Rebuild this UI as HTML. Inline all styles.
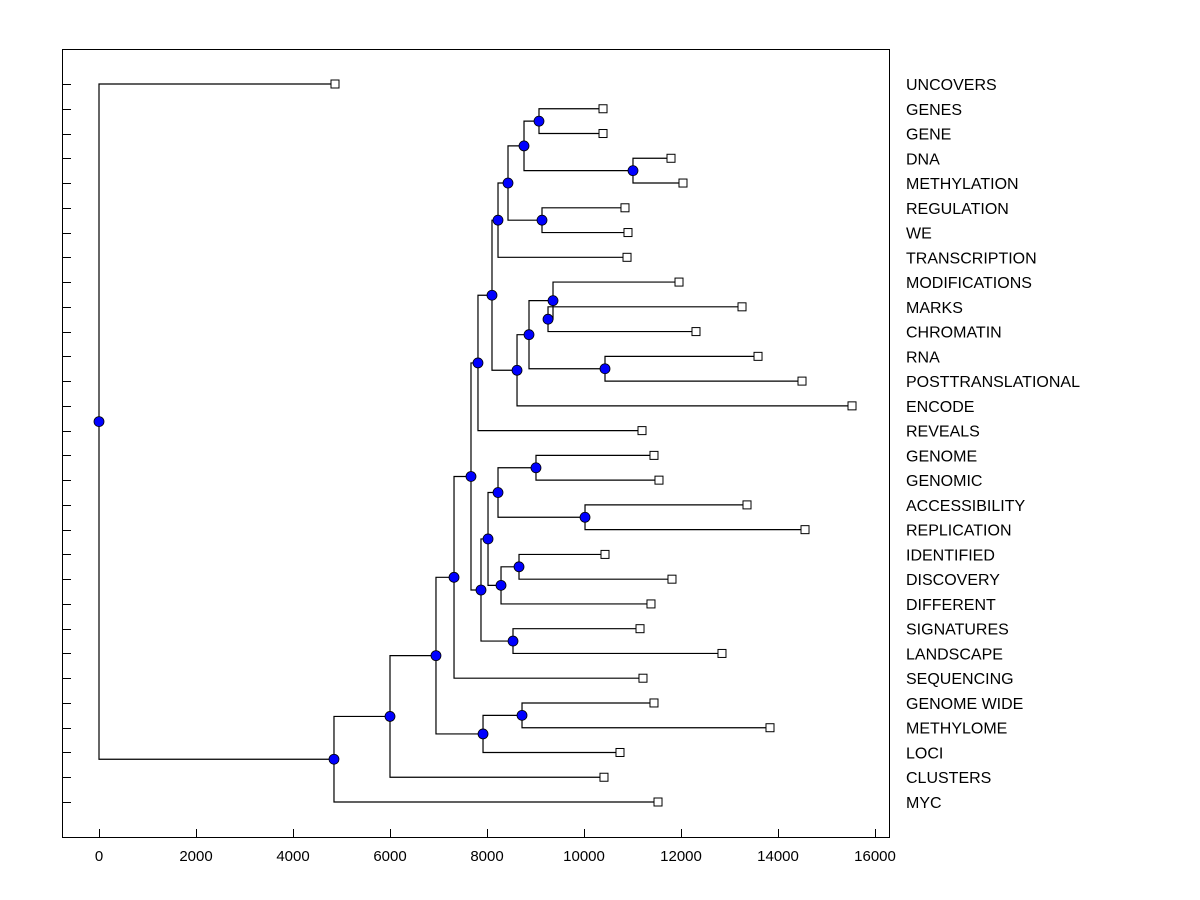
<!DOCTYPE html>
<html><head><meta charset="utf-8"><style>
body{margin:0;background:#fff}
svg{display:block;font-family:"Liberation Sans",sans-serif}
</style></head><body>
<svg id="chart" width="1200" height="900" viewBox="0 0 1200 900">
<rect x="62.5" y="49.5" width="827" height="788" fill="#fff" stroke="#000" stroke-width="1"/>
<g id="g"></g>
</svg>
<script>
const labels = ["UNCOVERS","GENES","GENE","DNA","METHYLATION","REGULATION","WE","TRANSCRIPTION","MODIFICATIONS","MARKS","CHROMATIN","RNA","POSTTRANSLATIONAL","ENCODE","REVEALS","GENOME","GENOMIC","ACCESSIBILITY","REPLICATION","IDENTIFIED","DISCOVERY","DIFFERENT","SIGNATURES","LANDSCAPE","SEQUENCING","GENOME WIDE","METHYLOME","LOCI","CLUSTERS","MYC"];
const leafValues = [4866,10392,10392,11794,12041,10845,10907,10887,11959,13258,12309,13588,14495,15526,11196,11443,11546,13361,14557,10433,11814,11381,11155,12845,11216,11443,13835,10742,10412,11526];
const mergeLeft  = ["L1","L3","N0","L5","N2","N4","L9","L8","L11","N7","N9","N5","N11","L15","L17","N13","L19","N16","N15","L22","N18","N12","N21","L25","N23","N22","N25","N26","L0"];
const mergeRight = ["L2","L4","N1","L6","N3","L7","L10","N6","L12","N8","L13","N10","L14","L16","L18","N14","L20","L21","N17","L23","N19","N20","L24","L26","L27","N24","L28","L29","N27"];
const mergeHeights = [9072,11010,8763,9134,8433,8227,9258,9361,10433,8866,8619,8103,7814,9010,10021,8227,8660,8289,8021,8536,7876,7670,7320,8722,7918,6948,6000,4845,0];
const xTicks = [0,2000,4000,6000,8000,10000,12000,14000,16000];

const NS="http://www.w3.org/2000/svg";
const g=document.getElementById('g');
const xs=v=>99+v*0.0485;
const ys=i=>84+i*(802-84)/(labels.length-1);
function mk(t,a){const e=document.createElementNS(NS,t);for(const k in a)e.setAttribute(k,a[k]);g.appendChild(e);return e;}

xTicks.forEach(t=>{
  const l=mk('line',{x1:xs(t)+.5,x2:xs(t)+.5,y1:829,y2:838,stroke:'#000'});
  
  
  const tx=mk('text',{x:xs(t),y:861,'text-anchor':'middle','font-size':15});
  tx.textContent=t;
  
  
});
labels.forEach((lab,i)=>{
  const l=mk('line',{x1:62,x2:71,y1:Math.round(ys(i))+.5,y2:Math.round(ys(i))+.5,stroke:'#000'});
  
  
  const tx=mk('text',{x:906,y:ys(i)+6,'font-size':16});
  tx.textContent=lab;
  
  
});

const pos={};
labels.forEach((l,i)=>{pos['L'+i]={x:xs(leafValues[i]),y:ys(i)};});
mergeHeights.forEach((h,k)=>{
  const a=pos[mergeLeft[k]],b=pos[mergeRight[k]];
  const x=xs(h);
  pos['N'+k]={x:x,y:(a.y+b.y)/2};
  const p=mk('path',{d:`M${a.x},${a.y}H${x}V${b.y}H${b.x}`,fill:'none',stroke:'#000','stroke-width':1.2});
  
  
});
labels.forEach((l,i)=>{
  const q=pos['L'+i];
  const r=mk('rect',{x:q.x-4,y:q.y-4,width:8,height:8,fill:'#fff',stroke:'#000'});
  
  
});
mergeHeights.forEach((h,k)=>{
  const q=pos['N'+k];
  const c=mk('circle',{cx:q.x,cy:q.y,r:5,fill:'#0000ff',stroke:'#000','stroke-width':.8});
  
  
});
</script>
</body></html>
